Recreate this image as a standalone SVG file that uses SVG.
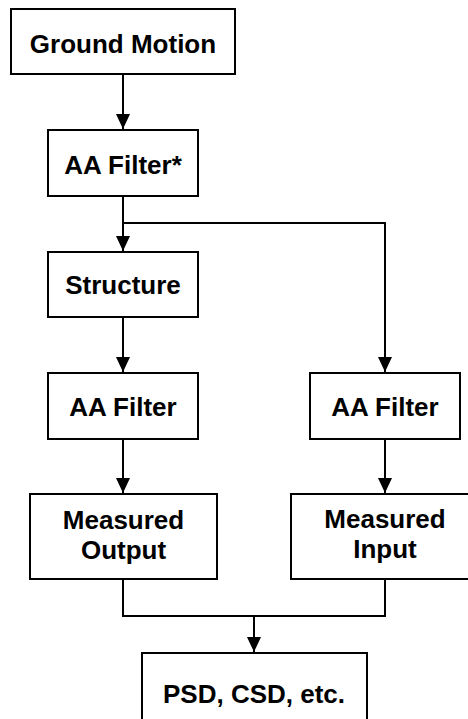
<svg xmlns="http://www.w3.org/2000/svg" width="468" height="719" viewBox="0 0 468 719">
<style>
.box{fill:#fff;stroke:#000;stroke-width:2}
.lbl{font-family:"Liberation Sans",Arial,sans-serif;font-weight:bold;font-size:26px;text-anchor:middle;fill:#000}
.conn{fill:none;stroke:#000;stroke-width:2}
</style>
<defs>
<marker id="arr" markerUnits="userSpaceOnUse" viewBox="0 0 15 14" refX="15" refY="7" markerWidth="15" markerHeight="14" orient="auto">
<path d="M0,0 L15,7 L0,14 z" fill="#000"/>
</marker>
</defs>
<rect width="468" height="719" fill="#fff"/>
<g id="connectors">
<path class="conn" d="M123,74 V129" marker-end="url(#arr)"/>
<path class="conn" d="M123,196 V251" marker-end="url(#arr)"/>
<path class="conn" d="M123,223 H385 V372" marker-end="url(#arr)"/>
<path class="conn" d="M123,317 V372" marker-end="url(#arr)"/>
<path class="conn" d="M123,439 V493" marker-end="url(#arr)"/>
<path class="conn" d="M385,439 V493" marker-end="url(#arr)"/>
<path class="conn" d="M123,579 V616 H385 V579"/>
<path class="conn" d="M254,616 V652" marker-end="url(#arr)"/>
</g>
<g id="ground-motion">
<rect class="box" x="11" y="9" width="224" height="65"/>
<text class="lbl" x="123" y="53">Ground Motion</text>
</g>
<g id="aa-filter-star">
<rect class="box" x="48" y="130" width="150" height="66"/>
<text class="lbl" x="123" y="174">AA Filter*</text>
</g>
<g id="structure">
<rect class="box" x="48" y="252" width="150" height="65"/>
<text class="lbl" x="123" y="294">Structure</text>
</g>
<g id="aa-filter-left">
<rect class="box" x="48" y="373" width="150" height="66"/>
<text class="lbl" x="123" y="416">AA Filter</text>
</g>
<g id="aa-filter-right">
<rect class="box" x="310" y="373" width="150" height="66"/>
<text class="lbl" x="385" y="416">AA Filter</text>
</g>
<g id="measured-output">
<rect class="box" x="30" y="494" width="187" height="85"/>
<text class="lbl" x="123.5" y="529">Measured</text>
<text class="lbl" x="123.5" y="559">Output</text>
</g>
<g id="measured-input">
<rect class="box" x="291" y="494" width="188" height="85"/>
<text class="lbl" x="385" y="528">Measured</text>
<text class="lbl" x="385" y="558">Input</text>
</g>
<g id="psd">
<rect class="box" x="142" y="653" width="225" height="80"/>
<text class="lbl" x="254" y="703">PSD, CSD, etc.</text>
</g>
</svg>
